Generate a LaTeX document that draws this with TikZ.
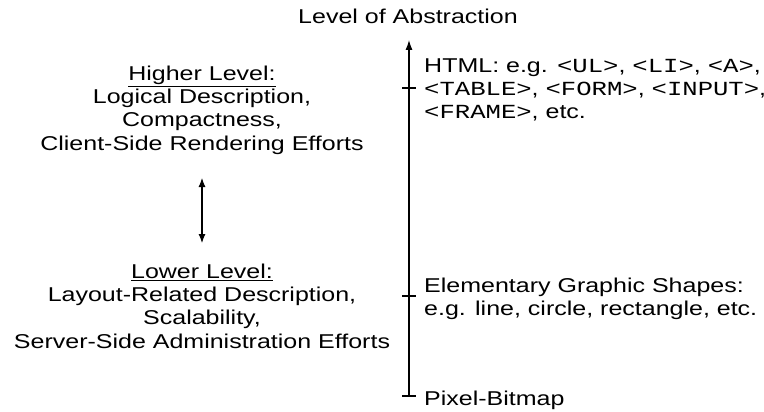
\documentclass[tikz,border=0pt]{standalone}
\usepackage{fontspec}
\setmainfont{Liberation Sans}[FakeStretch=1.25]
\setmonofont{Liberation Mono}[FakeStretch=1.28]
\usetikzlibrary{arrows.meta}
\tikzstyle{plain text}=[inner sep=0pt
,font=\fontsize{20}{23.3}\selectfont
]
\tikzstyle{level text} = [plain text, align=center]
\tikzstyle{item text} = [plain text, align=left, anchor=west]
\tikzstyle{abstraction axis} = [draw,line width=1.1pt,-{Latex[length=10pt,width=7pt]}]
\tikzstyle{axis tick} = [draw,line width=1.1pt,-]
\tikzstyle{level arrow} = [draw,line width=1.1pt,{Latex[length=9pt,width=7pt]}-{Latex[length=9pt,width=7pt]}]

\begin{document}
\begin{tikzpicture}[x=1pt,y=-1pt]
    \useasboundingbox (0,0) rectangle (764,412);
    % The axis with its ticks
    \coordinate (bottom) at (409,396);
    \coordinate (top) at (409,40);
    \path[abstraction axis] (bottom) -- (top);
    \foreach \y in {88, 296, 396}
        \path[axis tick] (402,\y) -- (416,\y);
    \node[plain text] (abstraction) at (408,16) {Level of Abstraction};

    % Items along the axis
    \node[item text] (html) at (424,90) {HTML: e.g. \texttt{<UL>}, \texttt{<LI>}, \texttt{<A>},\\
        \texttt{<TABLE>}, \texttt{<FORM>}, \texttt{<INPUT>},\\
        \texttt{<FRAME>}, etc.};
    \node[item text] (shapes) at (424,299) {Elementary Graphic Shapes:\\
        e.g. line, circle, rectangle, etc.};
    \node[item text] (bitmap) at (424,400) {Pixel-Bitmap};

    % The two levels on the left
    \node[level text] (higher) at (202,110) {\underline{Higher Level:}\\
        Logical Description,\\ Compactness,\\ Client-Side Rendering Efforts};
    \node[level text] (lower) at (202,306) {\underline{Lower Level:}\\
        Layout-Related Description,\\ Scalability,\\ Server-Side Administration Efforts};
    \coordinate (up) at (202,178);
    \coordinate (down) at (202,243);
    \path[level arrow] (up) -- (down);
\end{tikzpicture}
\end{document}
